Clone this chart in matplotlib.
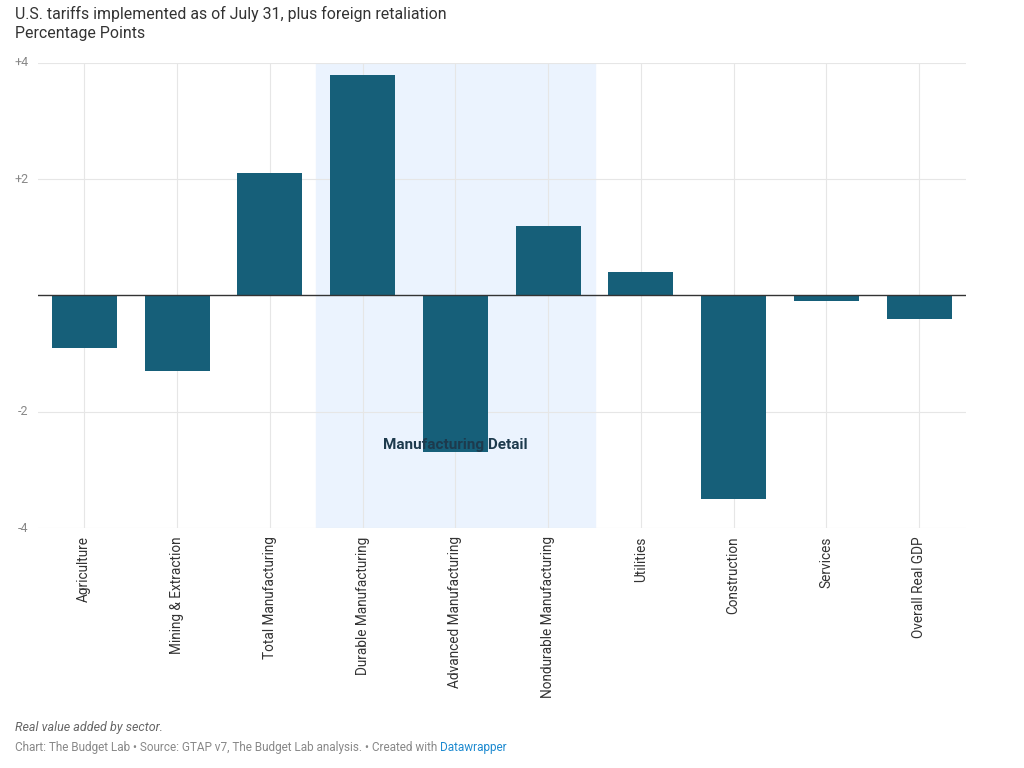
import matplotlib.pyplot as plt

plt.rcParams['font.family'] = ['Roboto', 'DejaVu Sans']

sectors = ["Agriculture", "Mining & Extraction", "Total Manufacturing",
           "Durable Manufacturing", "Advanced Manufacturing",
           "Nondurable Manufacturing", "Utilities", "Construction",
           "Services", "Overall Real GDP"]
values = [-0.9, -1.3, 2.1, 3.8, -2.7, 1.2, 0.4, -3.5, -0.1, -0.4]
yticks = [4, 2, -2, -4]
ytick_labels = ["+4", "+2", "-2", "-4"]

fig = plt.figure(figsize=(10.24, 7.68), dpi=100)
ax = fig.add_axes([0.037, 0.3125, 0.906, 0.6055])

x = list(range(len(sectors)))
ax.axvspan(2.5, 5.5, color='#ebf3fe', zorder=0)
ax.bar(x, values, width=0.7, color='#165f79', zorder=3)
ax.axhline(0, color='#333333', lw=1, zorder=4)

for yv in yticks:
    ax.axhline(yv, color='#e6e6e6', lw=0.8, zorder=1)
for xv in x:
    ax.axvline(xv, color='#e6e6e6', lw=0.8, zorder=1)

ax.set_xlim(-0.5, 9.5)
ax.set_ylim(-4, 4)
for s in ax.spines.values():
    s.set_visible(False)
ax.set_yticks([])
ax.set_xticks(x)
ax.set_xticklabels(sectors, rotation=90, fontsize=9.8, color='#333333')
ax.tick_params(axis='x', length=0, pad=6)

for yv, lab in zip(yticks, ytick_labels):
    ax.text(-0.6, yv, lab, ha='right', va='center', fontsize=9, color='#888888')

ax.text(4, -2.58, "Manufacturing Detail", ha='center', va='center',
        fontsize=11, fontweight='bold', color='#1d3a4d', zorder=5)

fig.text(0.015, 0.982, "U.S. tariffs implemented as of July 31, plus foreign retaliation",
         fontsize=11.4, color='#333333', va='center')
fig.text(0.015, 0.957, "Percentage Points", fontsize=11.4, color='#333333', va='center')

fig.text(0.015, 0.053, "Real value added by sector.", fontsize=9, style='italic',
         color='#666666', va='center')
t = fig.text(0.015, 0.027, "Chart: The Budget Lab \u2022 Source: GTAP v7, The Budget Lab analysis. \u2022 Created with ",
             fontsize=8.5, color='#888888', va='center')
fig.canvas.draw()
bb = t.get_window_extent()
fig.text(bb.x1 / fig.bbox.width, 0.027, "Datawrapper", fontsize=8.5,
         color='#1d8ad0', va='center')

fig.savefig("out.png", dpi=100)
